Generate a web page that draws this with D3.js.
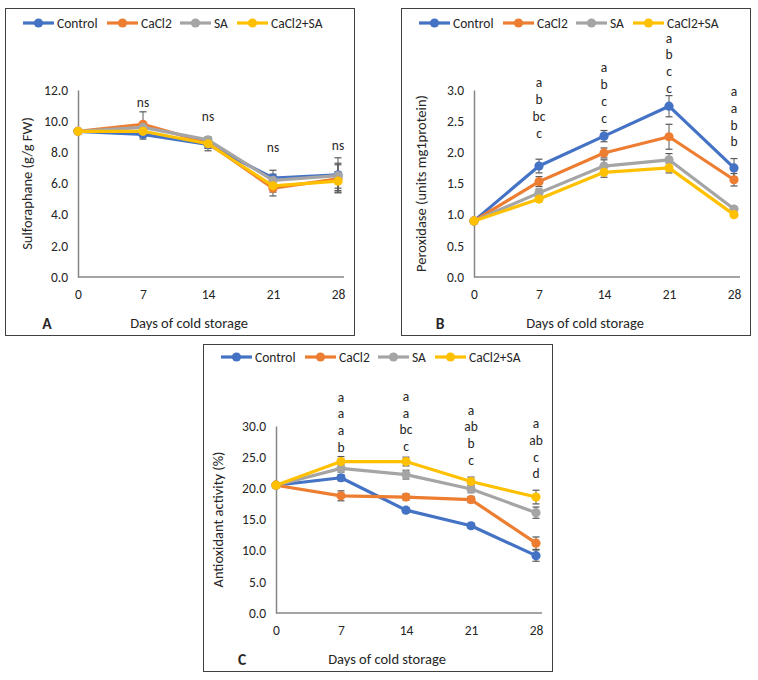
<!DOCTYPE html>
<html>
<head>
<meta charset="utf-8">
<script src="https://cdn.jsdelivr.net/npm/d3@7"></script>
<style>
html,body{margin:0;padding:0;background:#fff;}
svg{display:block;}
text{font-family:Carlito,Lato,"Open Sans",sans-serif;}
</style>
</head>
<body>
<svg id="chart" width="758" height="680"></svg>
<script>
// ---------- DATA ----------
const days = [0, 7, 14, 21, 28];
const seriesNames = ["Control", "CaCl2", "SA", "CaCl2+SA"];
const seriesColors = ["#4472C4", "#ED7D31", "#A5A5A5", "#FFC000"];

// Panel A: Sulforaphane (g/g FW)
const sulfControl = [9.35, 9.15, 8.5, 6.35, 6.55];
const sulfCaCl2   = [9.35, 9.8, 8.6, 5.7, 6.3];
const sulfSA      = [9.35, 9.6, 8.8, 6.2, 6.5];
const sulfCaSA    = [9.35, 9.35, 8.55, 5.85, 6.15];
const sulfErrControl = [0, 0.3, 0.4, 0.5, 1.1];
const sulfErrCaCl2   = [0, 0.8, 0.3, 0.5, 0.9];
const sulfErrSA      = [0, 0.3, 0.2, 0.4, 0.8];
const sulfErrCaSA    = [0, 0.3, 0.3, 0.4, 0.6];
const sulfTicks = [0, 2, 4, 6, 8, 10, 12];
const sulfLetters = [[], ["ns"], ["ns"], ["ns"], ["ns"]];
const sulfLetterAt = [null, 11.17, 10.27, 8.28, 8.41];

// Panel B: Peroxidase (units mg1protein)
const perControl = [0.9, 1.78, 2.26, 2.74, 1.75];
const perCaCl2   = [0.9, 1.53, 1.99, 2.25, 1.56];
const perSA      = [0.9, 1.35, 1.78, 1.88, 1.09];
const perCaSA    = [0.9, 1.25, 1.68, 1.75, 1.0];
const perErrControl = [0, 0.11, 0.09, 0.17, 0.15];
const perErrCaCl2   = [0, 0.08, 0.08, 0.2, 0.1];
const perErrSA      = [0, 0.06, 0.1, 0.1, 0.03];
const perErrCaSA    = [0, 0.04, 0.08, 0.08, 0.03];
const perTicks = [0, 0.5, 1.0, 1.5, 2.0, 2.5, 3.0];
const perLetters = [[], ["a","b","bc","c"], ["a","b","c","c"], ["a","b","c","c"], ["a","a","b","b"]];
const perLetterAt = [null, 2.31, 2.55, 3.03, 2.17];

// Panel C: Antioxidant activity (%)
const antControl = [20.5, 21.7, 16.5, 14.0, 9.2];
const antCaCl2   = [20.5, 18.8, 18.6, 18.2, 11.2];
const antSA      = [20.5, 23.2, 22.2, 19.9, 16.1];
const antCaSA    = [20.5, 24.3, 24.3, 21.1, 18.6];
const antErrControl = [0, 0.5, 0.4, 0.4, 0.9];
const antErrCaCl2   = [0, 0.8, 0.5, 0.5, 1.0];
const antErrSA      = [0, 0.6, 0.7, 0.6, 0.9];
const antErrCaSA    = [0, 0.8, 0.7, 0.7, 1.1];
const antTicks = [0, 5, 10, 15, 20, 25, 30];
const antLetters = [[], ["a","a","a","b"], ["a","a","bc","c"], ["a","ab","b","c"], ["a","ab","c","d"]];
const antLetterAt = [null, 26.6, 26.7, 24.5, 22.3];

const xTitle = "Days of cold storage";

const panels = [
  {x: 5, y: 8, tag: "A", yTitle: "Sulforaphane (g/g FW)", yTitleX: 22, ymax: 12, ticks: sulfTicks,
   series: [sulfControl, sulfCaCl2, sulfSA, sulfCaSA], errs: [sulfErrControl, sulfErrCaCl2, sulfErrSA, sulfErrCaSA],
   letters: sulfLetters, letterAt: sulfLetterAt},
  {x: 401, y: 8, tag: "B", yTitle: "Peroxidase (units mg1protein)", yTitleX: 20, ymax: 3, ticks: perTicks,
   series: [perControl, perCaCl2, perSA, perCaSA], errs: [perErrControl, perErrCaCl2, perErrSA, perErrCaSA],
   letters: perLetters, letterAt: perLetterAt},
  {x: 203, y: 344, tag: "C", yTitle: "Antioxidant activity (%)", yTitleX: 15, ymax: 30, ticks: antTicks,
   series: [antControl, antCaCl2, antSA, antCaSA], errs: [antErrControl, antErrCaCl2, antErrSA, antErrCaSA],
   letters: antLetters, letterAt: antLetterAt}
];

// ---------- DRAW ----------
const svg = d3.select("#chart");
const W = 349, H = 327;
const pl = 73, pr = 333, pt = 82, pb = 269;
const textColor = "#262626";
const fs = 13.5;

panels.forEach(p => {
  const g = svg.append("g").attr("transform", `translate(${p.x},${p.y})`);
  g.append("rect").attr("x", 0.5).attr("y", 0.5).attr("width", W).attr("height", H)
    .attr("fill", "#fff").attr("stroke", "#404040").attr("stroke-width", 1);

  const x = d3.scalePoint().domain(days).range([pl, pr]);
  const y = d3.scaleLinear().domain([0, p.ymax]).range([pb, pt]);

  // y axis
  const yAx = g.append("g").attr("transform", `translate(${pl},0)`)
    .call(d3.axisLeft(y).tickValues(p.ticks).tickFormat(d3.format(".1f")).tickSize(0).tickPadding(10));
  yAx.select(".domain").attr("stroke", "#868686").attr("stroke-width", 1.5);
  yAx.selectAll("text").attr("font-size", fs).attr("fill", textColor).attr("font-family", "Carlito,Lato,sans-serif");

  // x axis
  const xAx = g.append("g").attr("transform", `translate(0,${pb})`)
    .call(d3.axisBottom(x).tickSize(0).tickPadding(12));
  xAx.select(".domain").attr("d", `M${pl},0H${pr + 6}`).attr("stroke", "#868686").attr("stroke-width", 1.5);
  xAx.selectAll("text").attr("font-size", fs).attr("fill", textColor).attr("font-family", "Carlito,Lato,sans-serif");

  // titles
  g.append("text").attr("transform", `translate(${p.yTitleX},${(pt + pb) / 2}) rotate(-90)`)
    .attr("text-anchor", "middle").attr("dominant-baseline", "central")
    .attr("font-size", 14.5).attr("fill", textColor).text(p.yTitle);
  g.append("text").attr("x", 184).attr("y", 315).attr("text-anchor", "middle")
    .attr("dominant-baseline", "central").attr("font-size", 14.5).attr("fill", textColor).text(xTitle);
  g.append("text").attr("x", p.tag === "A" ? 42 : 39).attr("y", 315).attr("text-anchor", "middle")
    .attr("dominant-baseline", "central").attr("font-size", 15.5).attr("font-weight", "bold")
    .attr("fill", textColor).text(p.tag);

  // error bars
  p.series.forEach((vals, si) => {
    const eg = g.append("g");
    vals.forEach((v, i) => {
      const e = p.errs[si][i];
      if (!e) return;
      const cx = x(days[i]);
      eg.append("line").attr("x1", cx).attr("x2", cx).attr("y1", y(v - e)).attr("y2", y(v + e))
        .attr("stroke", "#595959").attr("stroke-width", 1);
      [v - e, v + e].forEach(ev => {
        eg.append("line").attr("x1", cx - 3.5).attr("x2", cx + 3.5).attr("y1", y(ev)).attr("y2", y(ev))
          .attr("stroke", "#595959").attr("stroke-width", 1.2);
      });
    });
  });

  // lines + markers
  const line = d3.line().x((d, i) => x(days[i])).y(d => y(d));
  p.series.forEach((vals, si) => {
    g.append("path").datum(vals).attr("d", line).attr("fill", "none")
      .attr("stroke", seriesColors[si]).attr("stroke-width", 3.2).attr("stroke-linejoin", "round");
    g.selectAll(null).data(vals).enter().append("circle")
      .attr("cx", (d, i) => x(days[i])).attr("cy", d => y(d)).attr("r", 4.6)
      .attr("fill", seriesColors[si]);
  });

  // significance letters
  p.letters.forEach((arr, i) => {
    if (!arr.length) return;
    const base = y(p.letterAt[i]);
    const n = arr.length;
    arr.forEach((t, k) => {
      g.append("text").attr("x", x(days[i])).attr("y", base - (n - 1 - k) * 16.7)
        .attr("text-anchor", "middle").attr("dominant-baseline", "central")
        .attr("font-size", fs).attr("fill", textColor).text(t);
    });
  });

  // legend
  const lx = [18, 102, 175, 232];
  const ly = p.tag === "C" ? 13 : 15;
  seriesNames.forEach((name, si) => {
    const lg = g.append("g").attr("transform", `translate(${lx[si]},${ly})`);
    lg.append("line").attr("x1", 0).attr("x2", 31).attr("y1", 0).attr("y2", 0)
      .attr("stroke", seriesColors[si]).attr("stroke-width", 3.2);
    lg.append("circle").attr("cx", 15.5).attr("cy", 0).attr("r", 4.6).attr("fill", seriesColors[si]);
    lg.append("text").attr("x", 34).attr("y", 0).attr("dominant-baseline", "central")
      .attr("font-size", fs).attr("fill", textColor).text(name);
  });
});
</script>
</body>
</html>
